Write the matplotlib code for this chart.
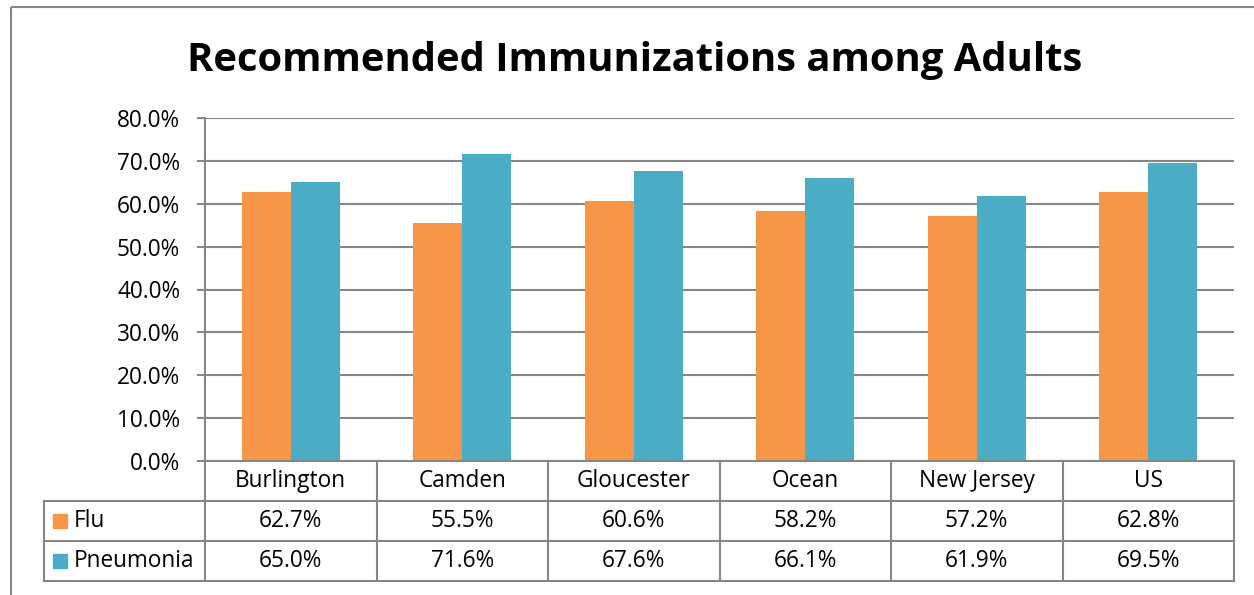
import numpy as np
import matplotlib.pyplot as plt
from matplotlib.patches import Rectangle
from matplotlib.ticker import FuncFormatter

# data
regions = ["Burlington", "Camden", "Gloucester", "Ocean", "New Jersey", "US"]
flu = [62.7, 55.5, 60.6, 58.2, 57.2, 62.8]
pneumonia = [65.0, 71.6, 67.6, 66.1, 61.9, 69.5]
series_names = ["Flu", "Pneumonia"]
colors = ["#F79646", "#4BACC6"]
title = "Recommended Immunizations among Adults"

W, H = 1254, 595
grey = "#868686"
plt.rcParams['font.family'] = ['Open Sans', 'DejaVu Sans']
fs = 16.3
lw = 1.5

fig = plt.figure(figsize=(W / 100, H / 100), dpi=100)

# pixel layout of the plot area
x0, x1 = 205, 1234
ytop, ybot = 118, 461
ax = fig.add_axes([x0 / W, 1 - ybot / H, (x1 - x0) / W, (ybot - ytop) / H])

n = len(regions)
x = np.arange(n)
bw = 0.2857
ax.bar(x - bw / 2, flu, width=bw, color=colors[0], zorder=3)
ax.bar(x + bw / 2, pneumonia, width=bw, color=colors[1], zorder=3)
ax.set_xlim(-0.5, n - 0.5)
ax.set_ylim(0, 80)
ax.set_yticks(np.arange(0, 81, 10))
ax.yaxis.set_major_formatter(FuncFormatter(lambda v, p: f"{v:.1f}%"))
ax.yaxis.grid(True, color=grey, linewidth=lw, zorder=0)
ax.set_xticks([])
for s in ["top", "right", "bottom"]:
    ax.spines[s].set_visible(False)
ax.spines["left"].set_color(grey)
ax.spines["left"].set_linewidth(lw)
ax.tick_params(axis="y", length=5.8, width=lw, color=grey, labelsize=fs, pad=12)

# overlay axes in pixel coords for the data table and frame
ov = fig.add_axes([0, 0, 1, 1])
ov.set_xlim(0, W)
ov.set_ylim(H, 0)
ov.axis("off")
ov.patch.set_alpha(0)

ov.add_patch(Rectangle((11, 7), 1400, 800, fill=False, edgecolor=grey, linewidth=lw))
ov.text(635, 60, title, ha="center", va="center", fontsize=28.8, fontweight="bold")

cw = (x1 - x0) / n
rows = [461, 501, 541, 581]
lkw = dict(color=grey, linewidth=lw)
ov.plot([x0, x1], [rows[0], rows[0]], **lkw)
for r in rows[1:]:
    ov.plot([44, x1], [r, r], **lkw)
ov.plot([44, 44], [rows[1], rows[3]], **lkw)
for i in range(n + 1):
    xc = x0 + i * cw
    ov.plot([xc, xc], [rows[0], rows[3]], **lkw)

for i, reg in enumerate(regions):
    xc = x0 + (i + 0.5) * cw
    ov.text(xc, (rows[0] + rows[1]) / 2, reg, ha="center", va="center", fontsize=fs)
    for j, vals in enumerate([flu, pneumonia]):
        ov.text(xc, (rows[j + 1] + rows[j + 2]) / 2, f"{vals[i]:.1f}%",
                ha="center", va="center", fontsize=fs)

for j, name in enumerate(series_names):
    yc = (rows[j + 1] + rows[j + 2]) / 2
    ov.add_patch(Rectangle((53, yc - 7), 14, 14, color=colors[j]))
    ov.text(74, yc, name, ha="left", va="center", fontsize=fs)

fig.savefig("out.png", dpi=100)
